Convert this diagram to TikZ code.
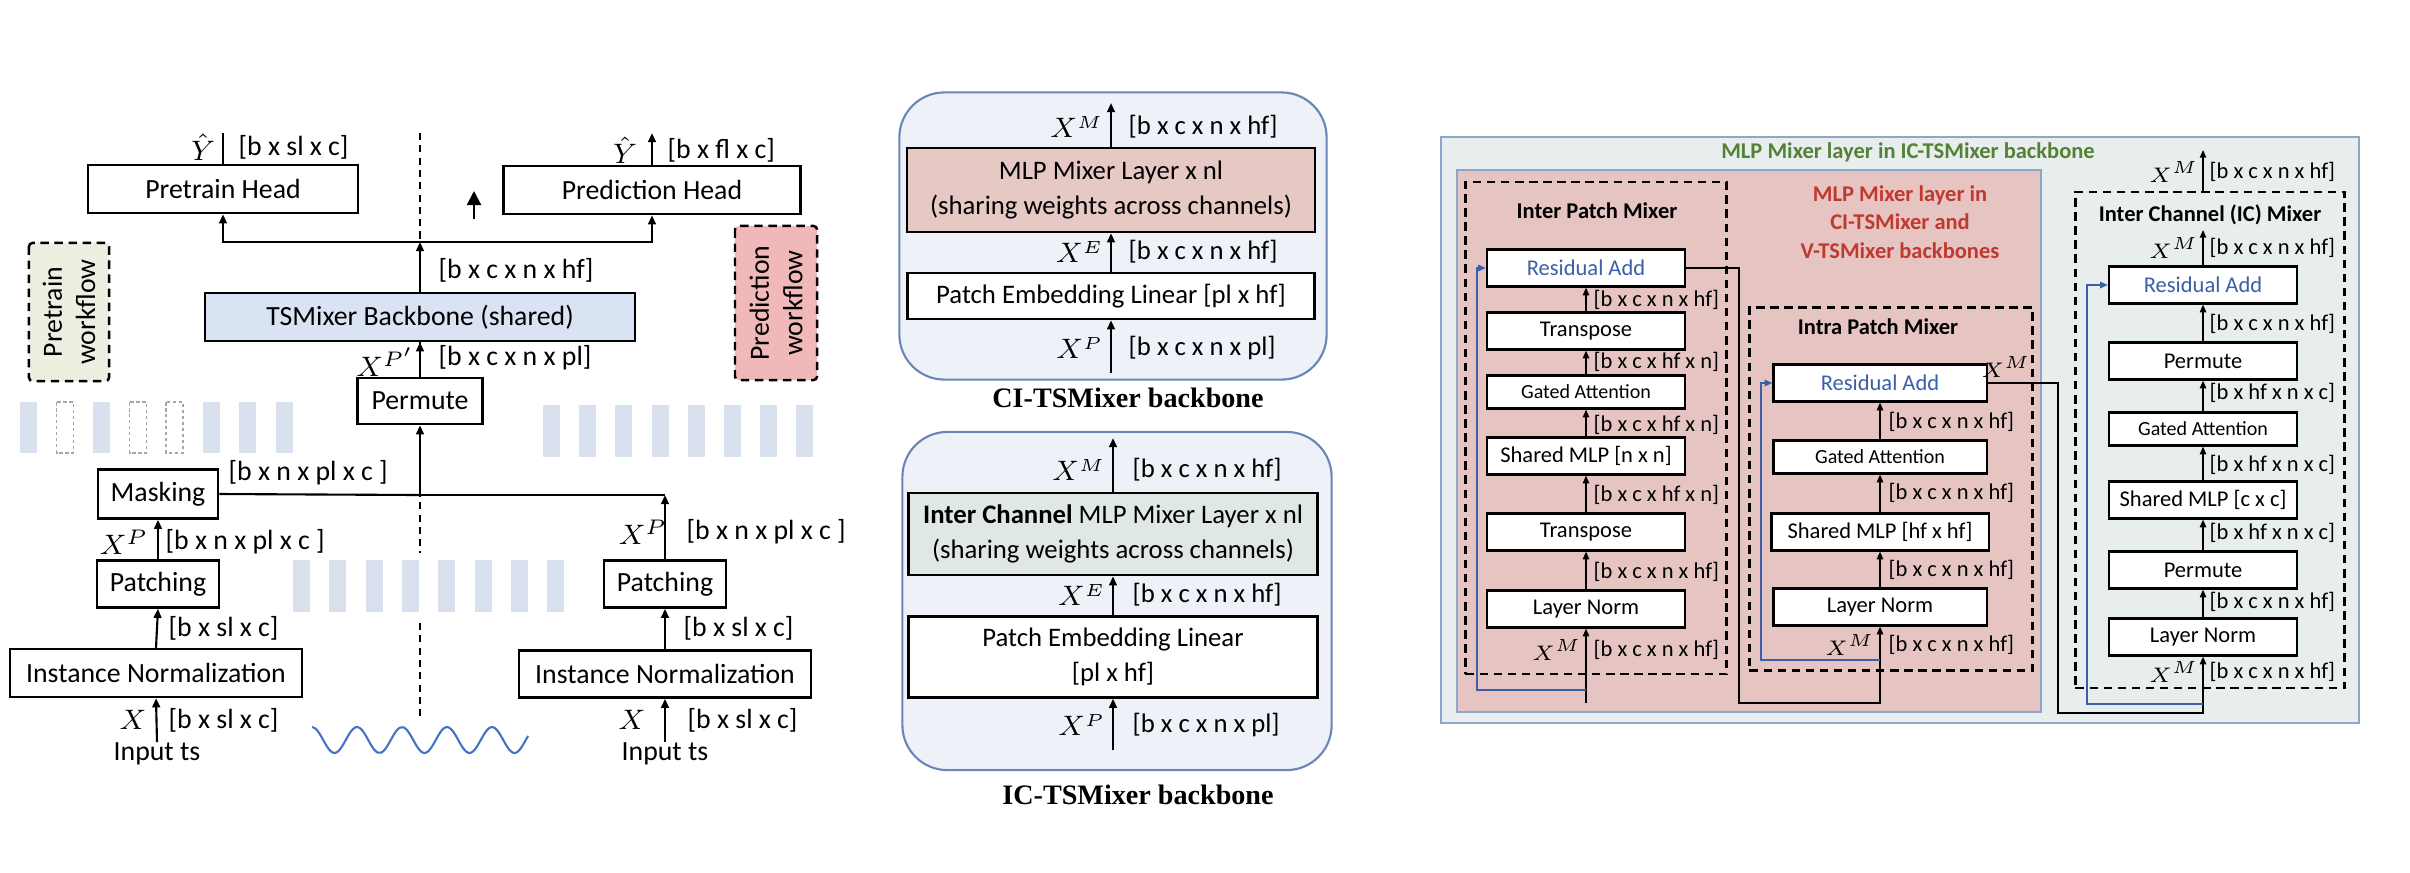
\documentclass[tikz,border=0pt]{standalone}
\usepackage{amsmath}
\usepackage{fontspec}
\setmainfont{Carlito}
\newfontfamily\capfont{Liberation Serif}
\usetikzlibrary{arrows.meta}

\definecolor{bbblue}{HTML}{DAE3F3}
\definecolor{stripe}{HTML}{D9E1EF}
\definecolor{pregreen}{HTML}{EBF0E0}
\definecolor{predpink}{HTML}{F0B8B9}
\definecolor{mlppink}{HTML}{E6C8C5}
\definecolor{icgreen}{HTML}{DFE8E4}
\definecolor{panelfill}{HTML}{EEF2F8}
\definecolor{panelline}{HTML}{6A86B8}
\definecolor{layerfill}{HTML}{E8EEEE}
\definecolor{layerline}{HTML}{8FA6CC}
\definecolor{mixpink}{HTML}{E6C4C2}
\definecolor{titlegreen}{HTML}{548235}
\definecolor{titlered}{HTML}{C0392F}
\definecolor{resblue}{HTML}{3B5FA8}
\definecolor{waveblue}{HTML}{4472C4}

\begin{document}
\begin{tikzpicture}[x=0.01cm,y=-0.01cm,
		box/.style={draw, line width=0.7pt, fill=white, inner sep=0pt, align=center},
		flow/.style={draw, line width=0.7pt, dash pattern=on 2.4pt off 1.6pt, inner sep=0pt, align=center, rounded corners=1pt},
		mixer/.style={draw, line width=0.65pt, dash pattern=on 2.4pt off 1.6pt, inner sep=0pt},
		panel/.style={draw=panelline, fill=panelfill, line width=0.6pt, rounded corners=0.45cm, inner sep=0pt},
		dim/.style={inner sep=0pt, anchor=west},
		sym/.style={inner sep=0pt, anchor=east},
		var/.style={inner sep=0pt},
		arr/.style={-{Triangle[length=2.6pt,width=2.2pt]}, line width=0.6pt},
		arrs/.style={-{Triangle[length=2.2pt,width=1.8pt]}, line width=0.45pt},
		bigarr/.style={-{Triangle[length=4pt,width=4pt]}, line width=0.6pt},
		wire/.style={line width=0.6pt},
		res/.style={draw=resblue, -{Triangle[length=2.2pt,width=1.8pt]}, line width=0.55pt},
		ghost/.style={draw=gray!70, line width=0.35pt, dash pattern=on 1pt off 0.7pt},
		divider/.style={line width=0.55pt, dash pattern=on 2pt off 1.5pt}]
	\useasboundingbox (0,0) rectangle (2410,872);

	% ---------- workflow ----------
	\begin{scope}[every node/.append style={font=\fontsize{7.9}{9.5}\selectfont}]
		\foreach \i in {0,2,5,6,7} \fill[stripe] (20+36.5*\i,402) rectangle ++(17,51);
		\foreach \i in {1,3,4} \draw[ghost] (20+36.5*\i,402) rectangle ++(17,51);
		\foreach \i in {0,...,7} \fill[stripe] (543+36.2*\i,405) rectangle ++(17,52);
		\foreach \i in {0,...,7} \fill[stripe] (293+36.3*\i,560) rectangle ++(17,52);
		\draw[divider] (420,133) -- (420,553);
		\draw[divider] (420,623) -- (420,717);
		\draw[waveblue, line width=0.6pt] plot[smooth, domain=312:528, samples=60] (\x, {740-13*cos((\x-312)*8)});

		\node[flow, fill=pregreen, rotate=90, minimum width=1.38cm, minimum height=0.80cm] (prewf) at (69,312) {Pretrain\\workflow};
		\node[flow, fill=predpink, rotate=90, minimum width=1.54cm, minimum height=0.82cm] (predwf) at (776,303) {Prediction\\workflow};

		\node[box, minimum width=2.70cm, minimum height=0.48cm] (phead) at (223,189) {Pretrain Head};
		\node[box, minimum width=2.97cm, minimum height=0.48cm] (dhead) at (652,190) {Prediction Head};
		\node[box, fill=bbblue, minimum width=4.30cm, minimum height=0.48cm] (backbone) at (420,317) {TSMixer Backbone (shared)};
		\node[box, minimum width=1.25cm, minimum height=0.46cm] (permute) at (420,401) {Permute};
		\node[box, minimum width=1.20cm, minimum height=0.49cm] (mask) at (158,494) {Masking};
		\node[box, minimum width=1.22cm, minimum height=0.47cm] (patchL) at (158,584) {Patching};
		\node[box, minimum width=2.92cm, minimum height=0.48cm] (inormL) at (156,673) {Instance Normalization};
		\node[box, minimum width=1.22cm, minimum height=0.47cm] (patchR) at (665,584) {Patching};
		\node[box, minimum width=2.92cm, minimum height=0.47cm] (inormR) at (665,674) {Instance Normalization};
		\node[inner sep=0pt] (inL) at (157,754) {Input ts};
		\node[inner sep=0pt] (inR) at (665,754) {Input ts};

		\coordinate (yhat1) at (223,133);
		\coordinate (yhat2) at (652,133);
		\coordinate (split) at (420,242);
		\coordinate (join) at (420,495);
		\coordinate (tipa) at (474,219);
		\coordinate (tipb) at (474,191);

		\draw[wire] (phead.north) -- (yhat1);
		\draw[arr] (dhead.north) -- (yhat2);
		\draw[arr] (backbone.north) -- (split);
		\draw[arr] (split) -| (phead.south);
		\draw[arr] (split) -| (dhead.south);
		\draw[bigarr] (tipa) -- (tipb);
		\draw[arr] (permute.north) -- (backbone.south);
		\draw[wire] (mask.east) -- (join);
		\draw[arr] (patchR.north) -- (patchR.north |- join);
		\draw[wire] (patchR.north |- join) -- (join);
		\draw[arr] (join) -- (permute.south);
		\draw[arr] (patchL.north) -- (mask.south);
		\draw[arr] (inormL.north) -- (patchL.south);
		\draw[arr] (inL.north) -- (inormL.south);
		\draw[arr] (inormR.north) -- (patchR.south);
		\draw[arr] (inR.north) -- (inormR.south);

		\node[var] (s1) at (203,147) {$\hat{Y}$};
		\node[dim] (d1) at (238,147) {[b x sl x c]};
		\node[var] (s2) at (625,150) {$\hat{Y}$};
		\node[dim] (d2) at (667,150) {[b x fl x c]};
		\node[dim] (d3) at (438,270) {[b x c x n x hf]};
		\node[sym] (s3) at (415,362) {$X^{P'}$};
		\node[dim] (d4) at (438,358) {[b x c x n x pl]};
		\node[dim] (d5) at (228,473) {[b x n x pl x c ]};
		\node[sym] (s4) at (149,542) {$X^P$};
		\node[dim] (d6) at (165,542) {[b x n x pl x c ]};
		\node[dim] (d7) at (168,628) {[b x sl x c]};
		\node[var] (s5) at (133,720) {$X$};
		\node[dim] (d8) at (168,720) {[b x sl x c]};
		\node[var] (s6) at (643,532) {$X^P$};
		\node[dim] (d9) at (686,532) {[b x n x pl x c ]};
		\node[dim] (d10) at (683,628) {[b x sl x c]};
		\node[var] (s7) at (632,720) {$X$};
		\node[dim] (d11) at (687,720) {[b x sl x c]};
	\end{scope}

	% ---------- CI / IC backbones ----------
	\begin{scope}[every node/.append style={font=\fontsize{7.6}{9.9}\selectfont}]
		\node[panel, minimum width=4.27cm, minimum height=2.87cm] (ci) at (1113,236) {};
		\node[box, fill=mlppink, minimum width=4.08cm, minimum height=0.84cm] (mlp) at (1111,190) {MLP Mixer Layer x nl\\(sharing weights across channels)};
		\node[box, minimum width=4.07cm, minimum height=0.46cm] (pe1) at (1111,296) {Patch Embedding Linear [pl x hf]};
		\coordinate (ciin) at (1111,373);
		\coordinate (ciout) at (1111,103);
		\draw[arr] (ciin) -- (pe1.south);
		\draw[arr] (pe1.north) -- (mlp.south);
		\draw[arr] (mlp.north) -- (ciout);
		\node[sym] (cs1) at (1104,127) {$X^M$};
		\node[dim] (cd1) at (1128,127) {[b x c x n x hf]};
		\node[sym] (cs2) at (1104,252) {$X^E$};
		\node[dim] (cd2) at (1128,252) {[b x c x n x hf]};
		\node[sym] (cs3) at (1104,348) {$X^P$};
		\node[dim] (cd3) at (1128,348) {[b x c x n x pl]};
		\node[font=\capfont\bfseries\fontsize{8}{10}\selectfont] (citext) at (1128,398) {CI-TSMixer backbone};

		\node[panel, minimum width=4.29cm, minimum height=3.38cm] (ic) at (1117,601) {};
		\node[box, fill=icgreen, minimum width=4.09cm, minimum height=0.82cm] (icmlp) at (1113,534) {\textbf{Inter Channel} MLP Mixer Layer x nl\\(sharing weights across channels)};
		\node[box, minimum width=4.09cm, minimum height=0.81cm] (pe2) at (1113,657) {Patch Embedding Linear\\{[pl x hf]}};
		\coordinate (icin) at (1113,750);
		\coordinate (icout) at (1113,438);
		\draw[arr] (icin) -- (pe2.south);
		\draw[arr] (pe2.north) -- (icmlp.south);
		\draw[arr] (icmlp.north) -- (icout);
		\node[sym] (is1) at (1106,470) {$X^M$};
		\node[dim] (id1) at (1132,470) {[b x c x n x hf]};
		\node[sym] (is2) at (1106,595) {$X^E$};
		\node[dim] (id2) at (1132,595) {[b x c x n x hf]};
		\node[sym] (is3) at (1106,725) {$X^P$};
		\node[dim] (id3) at (1132,725) {[b x c x n x pl]};
		\node[font=\capfont\bfseries\fontsize{8}{10}\selectfont] (ictext) at (1138,795) {IC-TSMixer backbone};
	\end{scope}

	% ---------- mixer layer ----------
	\begin{scope}[every node/.append style={font=\fontsize{6.4}{8.1}\selectfont},
			rbox/.style={box, line width=0.6pt, minimum height=0.37cm},
			gbox/.style={box, line width=0.6pt, minimum height=0.33cm, font=\fontsize{5.7}{7}\selectfont}]
		\node[draw=layerline, fill=layerfill, line width=0.6pt, inner sep=0pt, minimum width=9.17cm, minimum height=5.86cm] (layer) at (1900,430) {};
		\node[text=titlegreen, font=\bfseries\fontsize{6.4}{8.1}\selectfont] (ltitle) at (1908,152) {MLP Mixer layer in IC-TSMixer backbone};
		\node[draw=layerline, fill=mixpink, line width=0.6pt, inner sep=0pt, minimum width=5.83cm, minimum height=5.41cm] (cilayer) at (1749,441) {};
		\node[text=titlered, align=center, font=\bfseries\fontsize{6.4}{8.1}\selectfont] (ctitle) at (1900,222) {MLP Mixer layer in\\CI-TSMixer and\\V-TSMixer backbones};

		% inter patch
		\node[mixer, minimum width=2.61cm, minimum height=4.92cm] (interp) at (1596,428) {};
		\node[font=\bfseries\fontsize{6.4}{8.1}\selectfont] (t1) at (1597,211) {Inter Patch Mixer};
		\node[rbox, minimum width=1.98cm, text=resblue] (ra1) at (1586,268) {Residual Add};
		\node[rbox, minimum width=1.98cm] (tr1) at (1586,331) {Transpose};
		\node[gbox, minimum width=1.98cm] (ga1) at (1586,392) {Gated Attention};
		\node[rbox, minimum width=1.98cm] (sm1) at (1586,456) {Shared MLP [n x n]};
		\node[rbox, minimum width=1.98cm] (tr2) at (1586,532) {Transpose};
		\node[rbox, minimum width=1.98cm] (ln1) at (1586,609) {Layer Norm};
		\coordinate (in3) at (1586,703);
		\coordinate (rs1) at (1586,690);
		\draw[arrs] (in3) -- (ln1.south);
		\foreach \a/\b in {ln1/tr2, tr2/sm1, sm1/ga1, ga1/tr1, tr1/ra1}
			\draw[arrs] (\a.north) -- (\b.south);
		\draw[res] (rs1) -- (1477,690) |- (ra1.west);
		\node[dim] (e1) at (1593,300) {[b x c x n x hf]};
		\node[dim] (e2) at (1593,362) {[b x c x hf x n]};
		\node[dim] (e3) at (1593,425) {[b x c x hf x n]};
		\node[dim] (e4) at (1593,495) {[b x c x hf x n]};
		\node[dim] (e5) at (1593,572) {[b x c x n x hf]};
		\node[sym] (m1) at (1582,650) {$X^M$};
		\node[dim] (e6) at (1593,650) {[b x c x n x hf]};

		% intra patch
		\node[mixer, minimum width=2.83cm, minimum height=3.63cm] (intrap) at (1891,489) {};
		\node[font=\bfseries\fontsize{6.4}{8.1}\selectfont] (t2) at (1878,327) {Intra Patch Mixer};
		\node[rbox, minimum width=2.13cm, text=resblue] (ra2) at (1880,383) {Residual Add};
		\node[gbox, minimum width=2.13cm] (ga2) at (1880,457) {Gated Attention};
		\node[rbox, minimum width=2.17cm] (sm2) at (1880,532) {Shared MLP [hf x hf]};
		\node[rbox, minimum width=2.13cm] (ln2) at (1880,607) {Layer Norm};
		\coordinate (rs2) at (1880,660);
		\draw[arrs] (ra1.east) -| (1739,703) -| (ln2.south);
		\foreach \a/\b in {ln2/sm2, sm2/ga2, ga2/ra2}
			\draw[arrs] (\a.north) -- (\b.south);
		\draw[res] (rs2) -- (1761,660) |- (ra2.west);
		\node[var] (m2) at (2006,367) {$X^M$};
		\node[dim] (f1) at (1888,422) {[b x c x n x hf]};
		\node[dim] (f2) at (1888,493) {[b x c x n x hf]};
		\node[dim] (f3) at (1888,570) {[b x c x n x hf]};
		\node[sym] (m3) at (1875,645) {$X^M$};
		\node[dim] (f4) at (1888,645) {[b x c x n x hf]};

		% inter channel
		\node[mixer, minimum width=2.69cm, minimum height=4.96cm] (icm) at (2210,440) {};
		\node[font=\bfseries\fontsize{6.4}{8.1}\selectfont] (t3) at (2210,215) {Inter Channel (IC) Mixer};
		\node[rbox, minimum width=1.88cm, text=resblue] (ra3) at (2203,285) {Residual Add};
		\node[rbox, minimum width=1.88cm] (pm1) at (2203,361) {Permute};
		\node[gbox, minimum width=1.88cm] (ga3) at (2203,429) {Gated Attention};
		\node[rbox, minimum width=1.88cm] (sm3) at (2203,500) {Shared MLP [c x c]};
		\node[rbox, minimum width=1.88cm] (pm2) at (2203,570) {Permute};
		\node[rbox, minimum width=1.88cm] (ln3) at (2203,637) {Layer Norm};
		\coordinate (rs3) at (2203,704);
		\coordinate (o3) at (2203,230);
		\coordinate (o4) at (2203,150);
		\draw[arrs] (ra2.east) -| (2058,713) -| (ln3.south);
		\foreach \a/\b in {ln3/pm2, pm2/sm3, sm3/ga3, ga3/pm1, pm1/ra3}
			\draw[arrs] (\a.north) -- (\b.south);
		\draw[res] (rs3) -- (2087,704) |- (ra3.west);
		\draw[arrs] (ra3.north) -- (o3);
		\draw[arrs] (icm.north -| ra3.north) -- (o4);
		\node[sym] (m4) at (2199,172) {$X^M$};
		\node[dim] (g1) at (2209,172) {[b x c x n x hf]};
		\node[sym] (m5) at (2199,248) {$X^M$};
		\node[dim] (g2) at (2209,248) {[b x c x n x hf]};
		\node[dim] (g3) at (2209,324) {[b x c x n x hf]};
		\node[dim] (g4) at (2209,393) {[b x hf x n x c]};
		\node[dim] (g5) at (2209,465) {[b x hf x n x c]};
		\node[dim] (g6) at (2209,533) {[b x hf x n x c]};
		\node[dim] (g7) at (2209,602) {[b x c x n x hf]};
		\node[sym] (m6) at (2199,672) {$X^M$};
		\node[dim] (g8) at (2209,672) {[b x c x n x hf]};
	\end{scope}
\end{tikzpicture}
\end{document}
